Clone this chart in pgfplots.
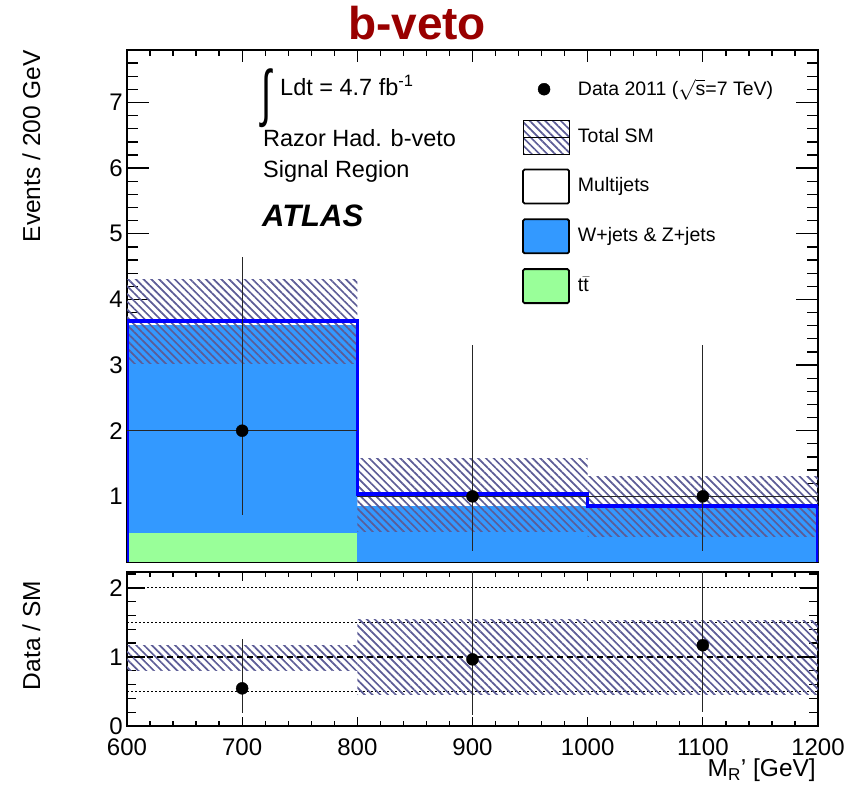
\documentclass[border=0pt]{standalone}
\usepackage{pgfplots}
\pgfplotsset{compat=1.18}
\usepackage{pgfplotstable}
\usetikzlibrary{patterns.meta}
\usepackage{graphicx}
\usepackage{fontspec}
\setmainfont{Liberation Sans}

\definecolor{wblue}{RGB}{51,153,255}
\definecolor{tgreen}{RGB}{153,255,153}
\definecolor{hatch}{RGB}{92,92,150}
\definecolor{lineblue}{RGB}{0,0,255}
\definecolor{titlered}{RGB}{153,0,0}

\tikzset{hatchfill/.style={pattern={Lines[angle=-45,distance=5.5pt,line width=1.7pt]},pattern color=hatch}}

% data: bin centre, value, x half-width, errors
\pgfplotstableread{
x    y   ex  eyp   eym
700  2   100 2.64  1.29
900  1   100 2.30  0.83
1100 1   100 2.30  0.83
}\datatab
\pgfplotstableread{
x    y     eyp   eym
700  0.545 0.719 0.352
900  0.965 2.220 0.800
1100 1.170 2.690 0.970
}\ratiotab

\begin{document}
\fontsize{24}{28}\selectfont
\begin{tikzpicture}[x=1pt,y=1pt]
\useasboundingbox (0,0) rectangle (857,789);

\pgfplotsset{
  rootstyle/.style={
    scale only axis, width=691pt,
    xmin=600, xmax=1200,
    tick align=inside,
    axis line style={line width=1.6pt},
    every tick/.style={black, line width=1.3pt},
    tick label style={font=\fontsize{24}{28}\selectfont},
    /pgf/number format/assume math mode=true,
    /pgf/number format/set thousands separator={},
    xtick={600,700,...,1200},
    minor xtick={620,640,...,1180},
    yticklabel style={inner sep=0pt, xshift=-4pt},
  }
}

% ---------------- top panel ----------------
\begin{axis}[rootstyle,
  at={(127pt,227pt)}, anchor=south west, height=512pt,
  ymin=0, ymax=7.8,
  ytick={0,1,...,7}, yticklabels={,1,2,3,4,5,6,7},
  minor ytick={0.2,0.4,...,7.8},
  xticklabels={},
  xtick style={/pgfplots/major tick length=12pt,/pgfplots/minor tick length=6pt},
  ytick style={/pgfplots/major tick length=22pt,/pgfplots/minor tick length=11pt},
  legend style={at={(axis description cs:0.5716,0.957)}, anchor=north west,
     draw=none, fill=none, inner sep=0pt, row sep=14pt, column sep=6pt,
     font=\fontsize{19.5}{22}\selectfont, legend cell align=left},
]
% legend entries
\addlegendimage{legend image code/.code={\path[draw=none,fill=none] (0pt,-17pt) rectangle (46pt,17pt); \fill[black] (21pt,0pt) circle (6pt);}}
\addlegendentry{Data 2011 (\(\sqrt{\mbox{s}}\)=7 TeV)}
\addlegendimage{legend image code/.code={\fill[hatchfill] (0pt,-17pt) rectangle (46pt,17pt); \draw[black,line width=1.5pt] (0pt,0pt)--(46pt,0pt);}}
\addlegendentry{Total SM}
\addlegendimage{legend image code/.code={\draw[fill=white,line width=1.8pt,rounded corners=1.5pt] (0pt,-17pt) rectangle (46pt,17pt);}}
\addlegendentry{Multijets}
\addlegendimage{legend image code/.code={\draw[fill=wblue,line width=1.8pt,rounded corners=1.5pt] (0pt,-17pt) rectangle (46pt,17pt);}}
\addlegendentry{W+jets \& Z+jets}
\addlegendimage{legend image code/.code={\draw[fill=tgreen,line width=1.8pt,rounded corners=1.5pt] (0pt,-17pt) rectangle (46pt,17pt);}}
\addlegendentry{t\(\bar{\mbox{t}}\)}

% stack: multijets (total), W/Z+jets, ttbar
\addplot[forget plot, const plot, fill=white, draw=none] coordinates {(600,3.67) (800,1.036) (1000,0.855) (1200,0.855)} \closedcycle;
\addplot[forget plot, const plot, fill=wblue, draw=none] coordinates {(600,3.61) (800,0.85) (1000,0.85) (1200,0.85)} \closedcycle;
\addplot[forget plot, fill=tgreen, draw=none] coordinates {(600,0) (600,0.44) (800,0.44) (800,0)} -- cycle;
% uncertainty band
\addplot[forget plot, hatchfill, draw=none] coordinates {(600,3.03) (800,3.03) (800,4.31) (600,4.31)} -- cycle;
\addplot[forget plot, hatchfill, draw=none] coordinates {(800,0.46) (1000,0.46) (1000,1.58) (800,1.58)} -- cycle;
\addplot[forget plot, hatchfill, draw=none] coordinates {(1000,0.385) (1200,0.385) (1200,1.31) (1000,1.31)} -- cycle;
% total SM outline
\addplot[forget plot, const plot, lineblue, line width=3.6pt] coordinates {(600,0) (600,3.67) (800,1.036) (1000,0.855) (1200,0.855) (1200,0)};
% data
\addplot[forget plot, only marks, mark=*, mark size=6pt, black,
  error bars/.cd, x dir=both, x explicit, y dir=both, y explicit,
  error mark=none, error bar style={line width=1.3pt, black!85}]
  table[x=x, y=y, x error=ex, y error plus=eyp, y error minus=eym] {\datatab};
\end{axis}

% ---------------- ratio panel ----------------
\begin{axis}[rootstyle,
  at={(127pt,63pt)}, anchor=south west, height=154pt,
  ymin=0, ymax=2.23,
  ytick={0,1,2}, minor ytick={0.2,0.4,...,2.2},
  xticklabel style={inner sep=0pt, yshift=-13pt},
  xtick style={/pgfplots/major tick length=9pt,/pgfplots/minor tick length=5pt},
  ytick style={/pgfplots/major tick length=18pt,/pgfplots/minor tick length=9pt},
]
\addplot[black, line width=1pt, dash pattern=on 2pt off 2pt] coordinates {(600,0.5) (1200,0.5)};
\addplot[black, line width=1pt, dash pattern=on 2pt off 2pt] coordinates {(600,1.5) (1200,1.5)};
\addplot[black, line width=1pt, dash pattern=on 2pt off 2pt] coordinates {(600,2) (1200,2)};
\addplot[hatchfill, draw=none] coordinates {(600,0.81) (800,0.81) (800,1.17) (600,1.17)} -- cycle;
\addplot[hatchfill, draw=none] coordinates {(800,0.45) (1000,0.45) (1000,1.54) (800,1.54)} -- cycle;
\addplot[hatchfill, draw=none] coordinates {(1000,0.46) (1200,0.46) (1200,1.53) (1000,1.53)} -- cycle;
\addplot[black, line width=1.3pt, dash pattern=on 6pt off 4pt] coordinates {(600,1) (1200,1)};
\addplot[only marks, mark=*, mark size=6pt, black,
  error bars/.cd, y dir=both, y explicit,
  error mark=none, error bar style={line width=1.2pt, black!85}]
  table[x=x, y=y, y error plus=eyp, y error minus=eym] {\ratiotab};
\end{axis}

% ---------------- texts ----------------
\node[anchor=base, font=\fontsize{46}{50}\selectfont\bfseries, text=titlered, inner sep=0pt] at (417,749) {b-veto};
\node[anchor=base west, font=\fontsize{23.5}{28}\selectfont, inner sep=0pt] at (261,693)
  {\raisebox{-19pt}{\resizebox*{10pt}{59pt}{∫}}\hspace{9pt}Ldt = 4.7 fb\textsuperscript{-1}};
\node[anchor=base west, font=\fontsize{23.5}{28}\selectfont, inner sep=0pt] at (263,642) {Razor Had. b-veto};
\node[anchor=base west, font=\fontsize{23.5}{28}\selectfont, inner sep=0pt] at (263,611) {Signal Region};
\node[anchor=base west, font=\fontsize{31}{36}\selectfont\bfseries\itshape, inner sep=0pt] at (262,562) {ATLAS};
\node[rotate=90, anchor=base east, font=\fontsize{24.5}{28}\selectfont, inner sep=0pt] at (40,739) {Events / 200 GeV};
\node[rotate=90, anchor=base east, font=\fontsize{24.5}{28}\selectfont, inner sep=0pt] at (40,208) {Data / SM};
\node[anchor=base east, font=\fontsize{24.5}{28}\selectfont, inner sep=0pt] at (816,12) {M\textsubscript{R}' [GeV]};
\end{tikzpicture}
\end{document}
